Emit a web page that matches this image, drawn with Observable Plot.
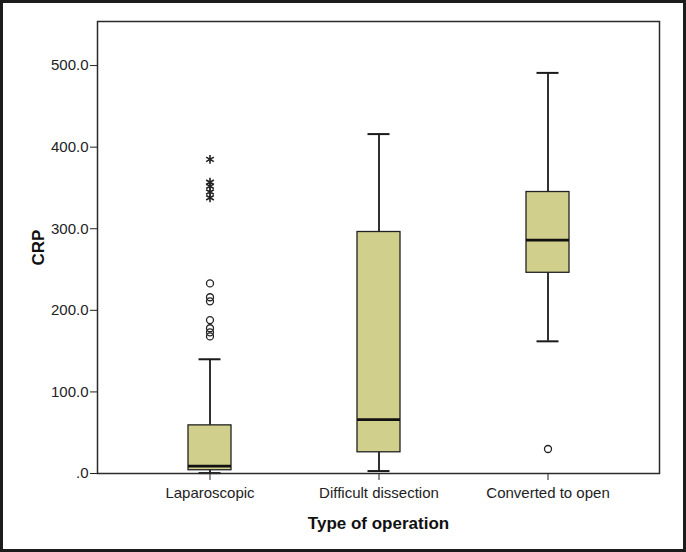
<!DOCTYPE html>
<html>
<head>
<meta charset="utf-8">
<script src="https://cdn.jsdelivr.net/npm/d3@7"></script>
<script src="https://cdn.jsdelivr.net/npm/@observablehq/plot@0.6"></script>
<style>
  html, body { margin: 0; padding: 0; background: #fff; }
  #chart svg { display: block; outline: 3px solid #1c1c1c; outline-offset: -3px; }
</style>
</head>
<body>
<div id="chart"></div>
<script>
// Categories and box statistics (CRP by type of operation)
const categories = ["Laparoscopic", "Difficult dissection", "Converted to open"];
const mins    = [0.5, 3, 162];
const q1s     = [4, 26, 246];
const medians = [9, 66, 286];
const q3s     = [59, 296, 345];
const maxs    = [140, 416, 491];

// Outliers
const lapCircles  = [233, 216, 211, 188, 178, 173, 168];
const lapStars    = [385, 357, 352, 345, 338];
const convCircles = [30];

// Y tick values
const yTicks = [0, 100, 200, 300, 400, 500];

const boxes = categories.map((c, i) => ({
  cat: c, min: mins[i], q1: q1s[i], med: medians[i], q3: q3s[i], max: maxs[i]
}));
const circles = [
  ...lapCircles.map(v => ({cat: categories[0], v})),
  ...convCircles.map(v => ({cat: categories[2], v}))
];
const stars = lapStars.map(v => ({cat: categories[0], v}));

const chart = Plot.plot({
  width: 686,
  height: 552,
  marginLeft: 97,
  marginRight: 27,
  marginTop: 21,
  marginBottom: 79,
  style: {fontFamily: "'Liberation Sans', Arial, sans-serif", color: "#222", background: "#fff"},
  x: {type: "band", domain: categories, paddingInner: 0.746, paddingOuter: 0.531},
  y: {domain: [0, 554]},
  marks: [
    Plot.axisY({ticks: yTicks, tickFormat: d => d === 0 ? ".0" : d.toFixed(1),
      tickSize: 7, tickPadding: 2, fontSize: 15, label: null, stroke: "#222"}),
    Plot.axisX({tickSize: 7, tickPadding: 7, fontSize: 15, label: null, stroke: "#222"}),
    Plot.ruleX(boxes, {x: "cat", y1: "q3", y2: "max", stroke: "#1a1a1a", strokeWidth: 1.8}),
    Plot.ruleX(boxes, {x: "cat", y1: "min", y2: "q1", stroke: "#1a1a1a", strokeWidth: 1.8}),
    Plot.barY(boxes, {x: "cat", y1: "q1", y2: "q3", fill: "#d1cf8c", stroke: "#222", strokeWidth: 1.3}),
    Plot.tickY(boxes, {x: "cat", y: "med", stroke: "#111", strokeWidth: 2.6}),
    Plot.tickY(boxes, {x: "cat", y: "max", stroke: "#1a1a1a", strokeWidth: 2, inset: 10.5}),
    Plot.tickY(boxes, {x: "cat", y: "min", stroke: "#1a1a1a", strokeWidth: 2, inset: 10.5}),
    Plot.dot(circles, {x: "cat", y: "v", r: 3.5, stroke: "#222", strokeWidth: 1.3, fill: "none"}),
    Plot.dot(stars, {x: "cat", y: "v", r: 4.2, symbol: "asterisk", stroke: "#222", strokeWidth: 1.6}),
    Plot.frame({stroke: "#2a2a2a", strokeWidth: 1.5}),
    Plot.text(["Type of operation"], {frameAnchor: "bottom", dy: 55, lineAnchor: "bottom",
      fontSize: 17, fontWeight: "bold", fill: "#111"}),
    Plot.text(["CRP"], {frameAnchor: "left", dx: -59, rotate: -90, textAnchor: "middle",
      fontSize: 17, fontWeight: "bold", fill: "#111"})
  ]
});
document.getElementById("chart").appendChild(chart);
</script>
</body>
</html>
